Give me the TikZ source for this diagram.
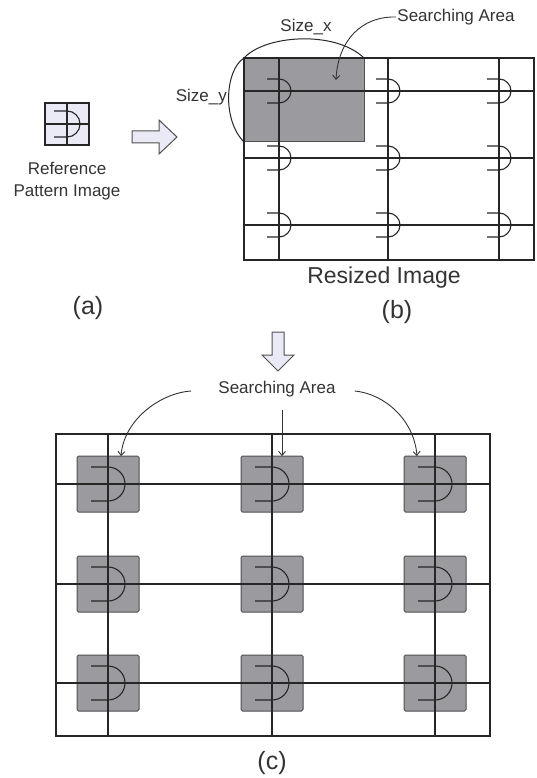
\documentclass[tikz,border=0pt]{standalone}
\usepackage{fontspec}
\setmainfont{Liberation Sans}
\usetikzlibrary{arrows.meta,calc,positioning}
\definecolor{inkgray}{HTML}{333333}
\definecolor{patternfill}{HTML}{E9EAF5}
\definecolor{areafill}{HTML}{9B9A9F}
\definecolor{areaedge}{HTML}{505050}

\tikzset{
  gridline/.style={line width=1.2pt, draw=black!85},
  areabox/.style={fill=areafill, draw=areaedge, line width=1pt},
  blockarrow/.style={fill=patternfill, draw=areaedge, line width=1pt, line join=miter},
  pointer/.style={-{Straight Barb[length=4pt,width=7pt]}, line width=0.9pt, draw=inkgray},
  sizecurve/.style={line width=1pt, draw=black!85},
  caption/.style={text=inkgray, font=\fontsize{17}{22}\selectfont, inner sep=1pt},
  bigcaption/.style={text=inkgray, font=\fontsize{23}{26}\selectfont, inner sep=1pt},
  panellabel/.style={text=inkgray, font=\fontsize{25}{28}\selectfont, inner sep=1pt},
}

% half-moon glyph: centre x, centre y, radius
\newcommand{\dglyph}[3]{%
  \draw[line width=1.1pt, black!85] (#1-#3,#2-#3) -- (#1,#2-#3)
    arc[start angle=-90, end angle=90, radius=#3] -- (#1-#3,#2+#3);}

\begin{document}
\begin{tikzpicture}[x=1pt, y=-1pt]
    \useasboundingbox (0,0) rectangle (537,778);

    % (a) reference pattern
    \fill[patternfill] (45,103) rectangle (89,145);
    \draw[gridline] (45,103) rectangle (89,145) (67,103) -- (67,145) (45,124) -- (89,124);
    \dglyph{67}{124}{13}
    \node[caption, align=center] (refname) at (67,181) {Reference\\Pattern Image};
    \node[panellabel] (lbla) at (88,308) {(a)};

    % block arrow to (b)
    \draw[blockarrow] (132,131) -- (159,131) -- (159,120) -- (177,137)
        -- (159,154) -- (159,143) -- (132,143) -- cycle;

    % (b) resized image
    \draw[areabox] (244,58) rectangle (364,142);
    \foreach \x in {279,388,499} \draw[gridline] (\x,58) -- (\x,260);
    \foreach \y in {91,158,225} \draw[gridline] (244,\y) -- (534,\y);
    \draw[gridline] (244,58) rectangle (534,260);
    \foreach \x in {279,388,499}
        \foreach \y in {91,158,225} {\dglyph{\x}{\y}{12}}

    % size marks
    \coordinate (areaNW) at (244,58);
    \coordinate (areaNE) at (364,58);
    \coordinate (areaSW) at (244,142);
    \coordinate (areatarget) at (336,80);
    \draw[sizecurve] (areaNW) .. controls (265,35) and (335,30) .. (areaNE);
    \draw[sizecurve] (areaNW) .. controls (225,70) and (222,120) .. (areaSW);
    \node[caption] (sizex) at (306,27) {Size\_x};
    \node[caption, anchor=east] (sizey) at (228,97) {Size\_y};
    \node[caption] (satop) at (456,17) {Searching Area};
    \draw[pointer] (satop.west) .. controls (362,16) and (338,40) .. (areatarget);

    \node[bigcaption] (resized) at (384,278) {Resized Image};
    \node[panellabel] (lblb) at (397,312) {(b)};

    % block arrow to (c)
    \draw[blockarrow] (272,332) -- (284,332) -- (284,355) -- (294,355) -- (278,371)
        -- (262,355) -- (272,355) -- cycle;

    % (c) searching areas
    \draw[gridline] (56,434) rectangle (490,736);
    \foreach \x in {108,272,435}
        \foreach \y in {484,584,683}
            \draw[areabox, rounded corners=1.5pt] (\x-31,\y-28) rectangle (\x+31,\y+28);
    \foreach \x in {108,272,435} \draw[gridline] (\x,434) -- (\x,736);
    \foreach \y in {484,584,683} \draw[gridline] (56,\y) -- (490,\y);
    \foreach \x in {108,272,435}
        \foreach \y in {484,584,683} {\dglyph{\x}{\y}{17}}

    \node[caption] (sacenter) at (277,389) {Searching Area};
    \coordinate (hitleft) at (121,456);
    \coordinate (hitmid) at (282,456);
    \coordinate (hitright) at (417,456);
    \draw[pointer] ($(sacenter.west)+(-26,2)$) .. controls (160,393) and (124,420) .. (hitleft);
    \draw[pointer] ($(sacenter.south)+(5,12)$) -- (hitmid);
    \draw[pointer] ($(sacenter.east)+(18,2)$) .. controls (385,394) and (414,420) .. (hitright);

    \node[panellabel] (lblc) at (272,763) {(c)};
\end{tikzpicture}
\end{document}
